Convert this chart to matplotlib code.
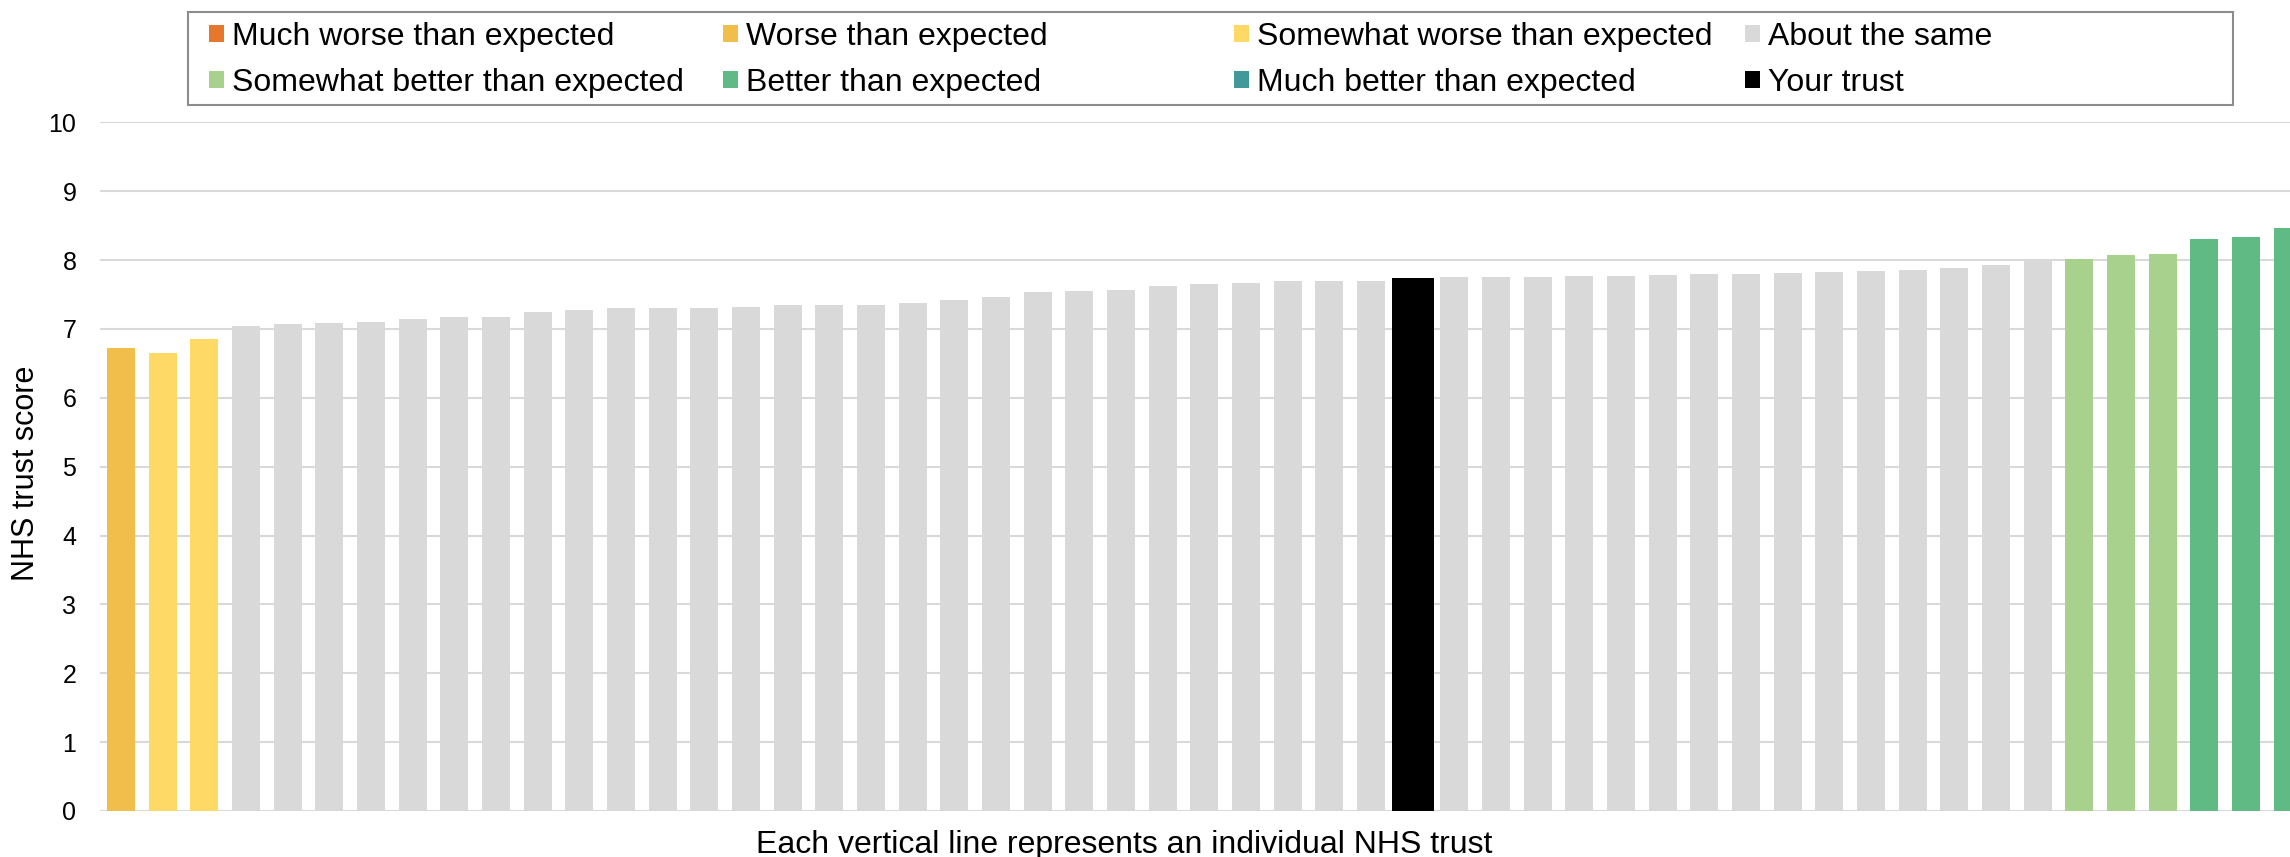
import matplotlib
matplotlib.use("Agg")
import matplotlib.pyplot as plt
from matplotlib.patches import Patch, Rectangle

plt.rcParams['font.family'] = ['Liberation Sans', 'DejaVu Sans']

# ---- data -------------------------------------------------------------
scores = [6.73, 6.65, 6.85, 7.04, 7.07, 7.08, 7.10, 7.15, 7.17, 7.18,
          7.25, 7.27, 7.30, 7.31, 7.31, 7.32, 7.34, 7.35, 7.35, 7.38,
          7.42, 7.47, 7.54, 7.55, 7.57, 7.63, 7.65, 7.67, 7.69, 7.69,
          7.69, 7.74, 7.75, 7.76, 7.76, 7.77, 7.77, 7.78, 7.80, 7.80,
          7.81, 7.83, 7.84, 7.86, 7.88, 7.93, 7.99, 8.02, 8.08, 8.09,
          8.31, 8.33, 8.46]
bands = (["Worse than expected"]
         + ["Somewhat worse than expected"] * 2
         + ["About the same"] * 28
         + ["Your trust"]
         + ["About the same"] * 15
         + ["Somewhat better than expected"] * 3
         + ["Better than expected"] * 3)

legend_labels = ["Much worse than expected", "Worse than expected",
                 "Somewhat worse than expected", "About the same",
                 "Somewhat better than expected", "Better than expected",
                 "Much better than expected", "Your trust"]
band_colors = {
    "Much worse than expected": "#E8772E",
    "Worse than expected": "#F1BE4B",
    "Somewhat worse than expected": "#FED966",
    "About the same": "#D9D9D9",
    "Somewhat better than expected": "#A9D18E",
    "Better than expected": "#5FBB83",
    "Much better than expected": "#41999A",
    "Your trust": "#000000",
}
y_ticks = list(range(0, 11))
y_label = "NHS trust score"
x_label = "Each vertical line represents an individual NHS trust"

# ---- figure -----------------------------------------------------------
W, H = 2290, 857
fig = plt.figure(figsize=(W / 100, H / 100), dpi=100)
ax = fig.add_axes([100 / W, (H - 811) / H, (W - 100) / W, (811 - 122.3) / H])

xs = list(range(len(scores)))
widths = [1.0 if b == "Your trust" else 0.673 for b in bands]
colors = [band_colors[b] for b in bands]
ax.bar(xs, scores, width=widths, color=colors, zorder=2, linewidth=0)

ax.set_xlim(-0.504, 52.055)
ax.set_ylim(0, 10)
ax.set_yticks(y_ticks)
ax.set_xticks([])
ax.grid(axis='y', color='#D9D9D9', linewidth=1.5, zorder=0)
ax.set_axisbelow(True)
for s in ax.spines.values():
    s.set_visible(False)
ax.tick_params(axis='y', length=0, pad=17, labelsize=18, labelcolor='#000000')

ax.set_ylabel(y_label, fontsize=22)
ax.yaxis.set_label_coords(-0.027, 0.49)
ax.set_xlabel(x_label, fontsize=23)
ax.xaxis.set_label_coords((1124 - 100) / (W - 100), -0.027)

# ---- legend (Excel-style, equal column widths) -------------------------
frame = Rectangle((188 / W, 1 - 105 / H), (2233 - 188) / W, (105 - 12) / H,
                  transform=fig.transFigure, facecolor='white',
                  edgecolor='#8C8C8C', linewidth=1.5, zorder=0)
fig.add_artist(frame)
col_x = [209, 723, 1234, 1745]
for c in range(4):
    labs = [legend_labels[c], legend_labels[c + 4]]
    handles = [Patch(facecolor=band_colors[l], edgecolor='none') for l in labs]
    fig.legend(handles, labs, loc='upper left',
               bbox_to_anchor=(col_x[c] / W, 1 - 22 / H),
               bbox_transform=fig.transFigure,
               frameon=False, fontsize=23, borderpad=0, borderaxespad=0,
               handlelength=0.47, handleheight=0.47, handletextpad=0.25,
               labelspacing=0.50)

fig.savefig("out.png", dpi=100)
